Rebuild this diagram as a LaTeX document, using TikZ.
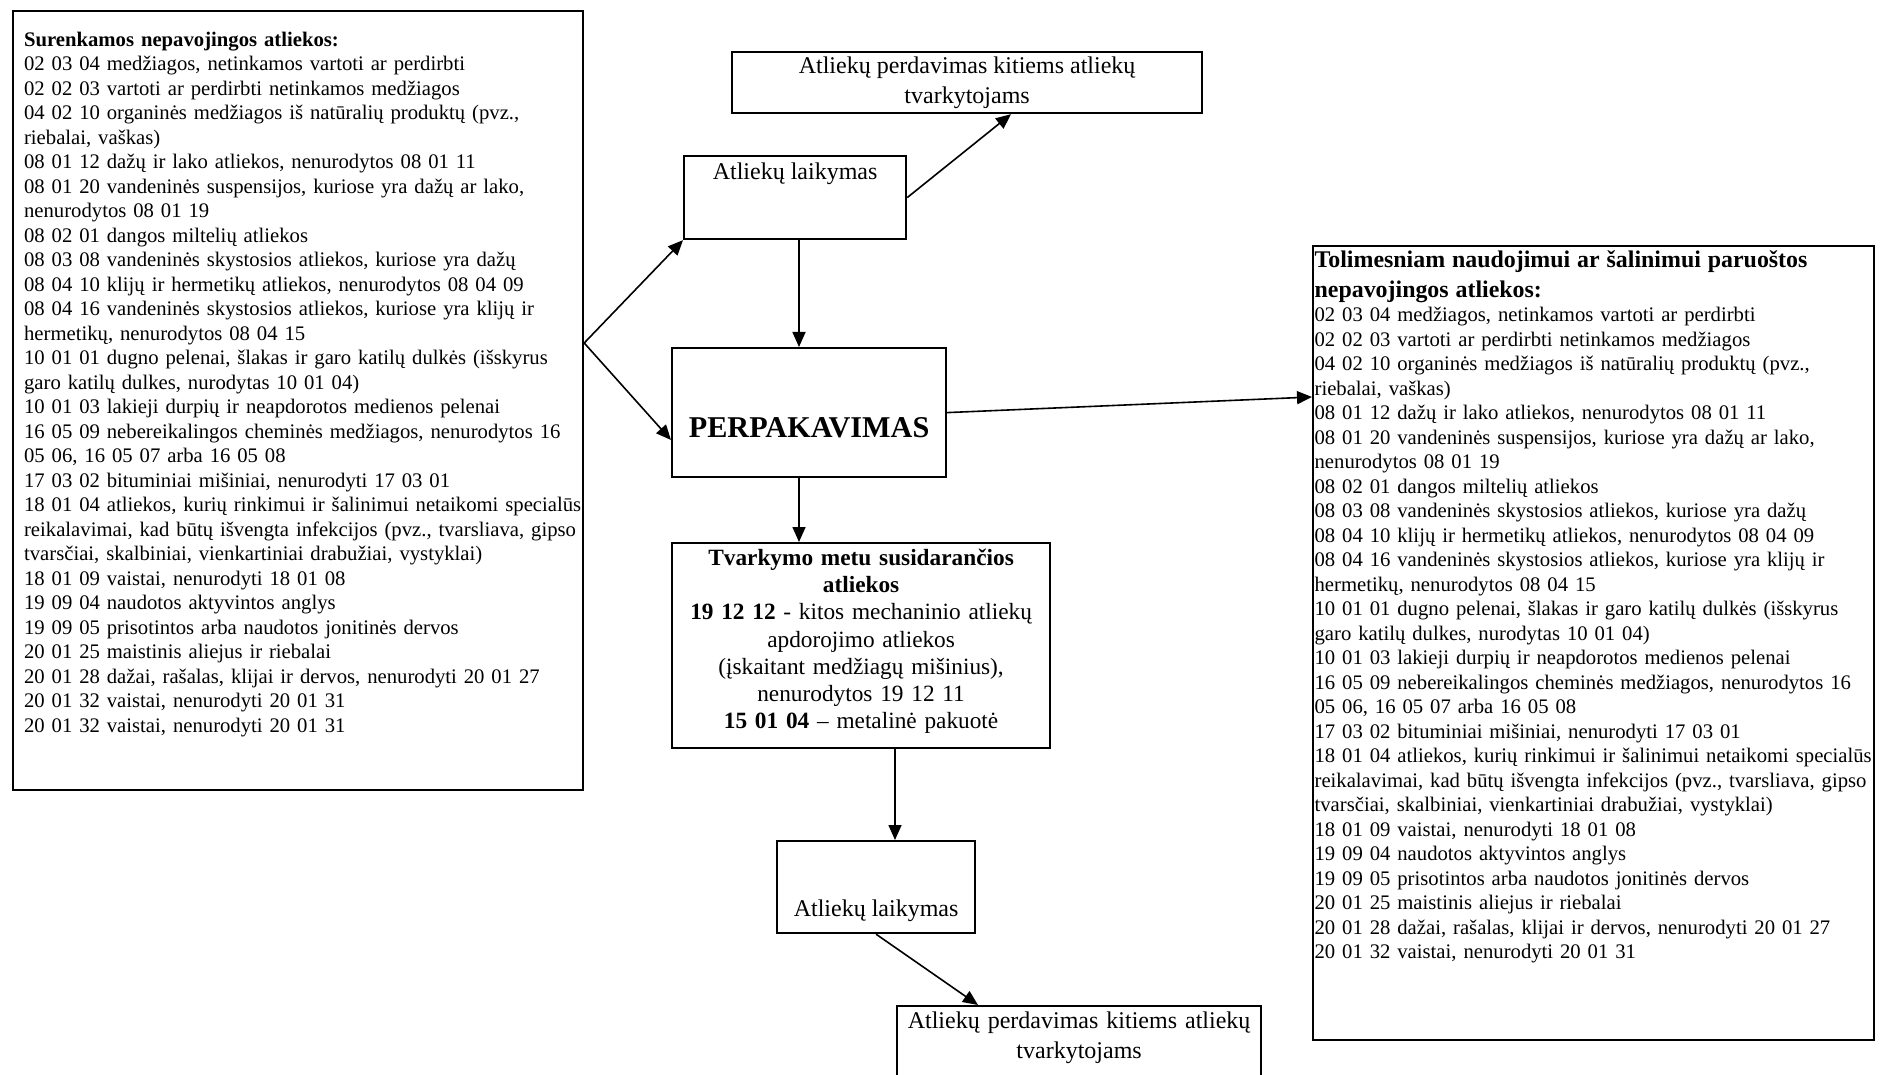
\documentclass[tikz,border=0pt]{standalone}
\usepackage{fontspec}
\setmainfont{Liberation Serif}
\usepackage{tikz}
\usetikzlibrary{arrows.meta}
\newcommand{\kodusarasas}{%
02 03 04 medžiagos, netinkamos vartoti ar perdirbti\\
02 02 03 vartoti ar perdirbti netinkamos medžiagos\\
04 02 10 organinės medžiagos iš natūralių produktų (pvz.,\\
riebalai, vaškas)\\
08 01 12 dažų ir lako atliekos, nenurodytos 08 01 11\\
08 01 20 vandeninės suspensijos, kuriose yra dažų ar lako,\\
nenurodytos 08 01 19\\
08 02 01 dangos miltelių atliekos\\
08 03 08 vandeninės skystosios atliekos, kuriose yra dažų\\
08 04 10 klijų ir hermetikų atliekos, nenurodytos 08 04 09\\
08 04 16 vandeninės skystosios atliekos, kuriose yra klijų ir\\
hermetikų, nenurodytos 08 04 15\\
10 01 01 dugno pelenai, šlakas ir garo katilų dulkės (išskyrus\\
garo katilų dulkes, nurodytas 10 01 04)\\
10 01 03 lakieji durpių ir neapdorotos medienos pelenai\\
16 05 09 nebereikalingos cheminės medžiagos, nenurodytos 16\\
05 06, 16 05 07 arba 16 05 08\\
17 03 02 bituminiai mišiniai, nenurodyti 17 03 01\\
18 01 04 atliekos, kurių rinkimui ir šalinimui netaikomi specialūs\\
reikalavimai, kad būtų išvengta infekcijos (pvz., tvarsliava, gipso\\
tvarsčiai, skalbiniai, vienkartiniai drabužiai, vystyklai)\\
18 01 09 vaistai, nenurodyti 18 01 08\\
19 09 04 naudotos aktyvintos anglys\\
19 09 05 prisotintos arba naudotos jonitinės dervos\\
20 01 25 maistinis aliejus ir riebalai\\
20 01 28 dažai, rašalas, klijai ir dervos, nenurodyti 20 01 27\\
20 01 32 vaistai, nenurodyti 20 01 31}

\begin{document}
\begin{tikzpicture}[x=1pt,y=-1pt,>={Triangle[length=15pt,width=13pt]},
  box/.style={draw,line width=2.2pt,inner ysep=0pt,inner xsep=4pt,align=center,anchor=north west,font=\fontsize{24}{30}\selectfont},
  listbox/.style={draw,line width=2.2pt,inner ysep=0pt,align=left,anchor=north west,font=\fontsize{20.7}{24.5}\selectfont},
  flow/.style={->,line width=1.6pt}]
\useasboundingbox (0,0) rectangle (1888,1075);
\clip (0,0) rectangle (1888,1075);
\fill[white] (0,0) rectangle (1888,1075);
\node[listbox,inner xsep=11pt,text width=548pt,text height=35pt,text depth=744pt] (surenkamos) at (12,10) {\begin{tabular}[t]{@{}l@{}}\textbf{Surenkamos nepavojingos atliekos:}\\
\kodusarasas\\
20 01 32 vaistai, nenurodyti 20 01 31\end{tabular}};
\node[box,minimum width=470pt,minimum height=61pt] (perdavimas1) at (731,51) {Atliekų perdavimas kitiems atliekų\\tvarkytojams};
\node[box,minimum width=222pt,text height=23pt,text depth=60pt] (laikymas1) at (683,155) {Atliekų laikymas};
\node[box,minimum width=274pt,text height=89pt,text depth=40pt,font=\fontsize{30.2}{34}\selectfont\bfseries] (perpak) at (671,347) {PERPAKAVIMAS};
\node[box,inner xsep=8pt,text width=362pt,text height=22pt,text depth=183pt,font=\fontsize{23.3}{27.3}\selectfont] (tvarkymo) at (671,542) {\textbf{Tvarkymo metu susidarančios}\\\textbf{atliekos}\\\textbf{19 12 12} - kitos mechaninio atliekų\\apdorojimo atliekos\\(įskaitant medžiagų mišinius),\\nenurodytos 19 12 11\\\textbf{15 01 04} – metalinė pakuotė};
\node[box,minimum width=198pt,text height=75pt,text depth=17pt] (laikymas2) at (776,840) {Atliekų laikymas};
\node[box,text width=356pt,text height=22pt,text depth=82pt] (perdavimas2) at (896,1005) {Atliekų perdavimas kitiems atliekų\\tvarkytojams};
\node[listbox,inner xsep=1.5pt,text width=558pt,text height=21pt,text depth=773pt] (paruostos) at (1312,245) {{\fontsize{23.9}{30}\selectfont\bfseries Tolimesniam naudojimui ar šalinimui paruoštos\\nepavojingos atliekos:\par}
\begin{tabular}[t]{@{}l@{}}\kodusarasas\end{tabular}};
\draw[flow] ([yshift=-333pt]surenkamos.north east) -- (laikymas1.south west);
\draw[flow] ([yshift=-333pt]surenkamos.north east) -- ([yshift=-93pt]perpak.north west);
\draw[flow] (laikymas1.east) -- ([xshift=280pt]perdavimas1.south west);
\draw[flow] ([xshift=116pt]laikymas1.south west) -- ([xshift=116pt]laikymas1.south west |- perpak.north);
\draw[flow] (perpak.east) -- ([yshift=-152pt]paruostos.north west);
\draw[flow] ([xshift=128pt]perpak.south west) -- ([xshift=128pt]perpak.south west |- tvarkymo.north);
\draw[flow] ([xshift=224pt]tvarkymo.south west) -- ([xshift=224pt]tvarkymo.south west |- laikymas2.north);
\draw[flow] (laikymas2.south) -- ([xshift=82pt]perdavimas2.north west);
\end{tikzpicture}
\end{document}
